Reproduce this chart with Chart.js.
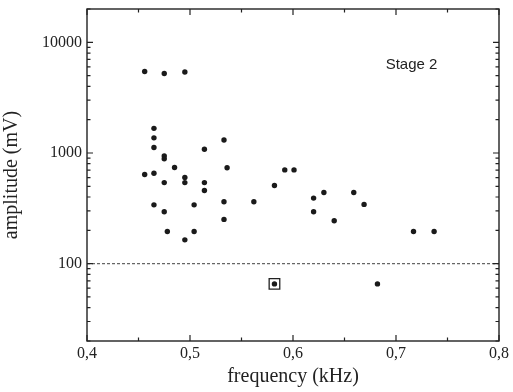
<!DOCTYPE html>
<html>
<head>
<meta charset="utf-8">
<script src="https://cdn.jsdelivr.net/npm/chart.js@4/dist/chart.umd.min.js"></script>
<style>
  html, body { margin: 0; padding: 0; background: #fff; }
  #wrap { width: 513px; height: 392px; }
</style>
</head>
<body>
<div id="wrap"><canvas id="chart" width="513" height="392"></canvas></div>
<script>
// measured peaks, stage 2
const freqKHz = [0.456, 0.475, 0.495, 0.465, 0.465, 0.465, 0.475, 0.475, 0.514, 0.533,
                 0.456, 0.465, 0.485, 0.495, 0.495, 0.475, 0.514, 0.514, 0.536, 0.592,
                 0.601, 0.582, 0.465, 0.475, 0.504, 0.533, 0.562, 0.533, 0.478, 0.504,
                 0.495, 0.620, 0.630, 0.620, 0.640, 0.659, 0.669, 0.717, 0.737, 0.582,
                 0.682];
const amplitudeMV = [5450, 5220, 5400, 1670, 1370, 1120, 940, 885, 1080, 1310,
                     640, 655, 740, 600, 540, 540, 540, 458, 735, 703,
                     703, 508, 340, 294, 340, 362, 362, 251, 195, 195,
                     164, 391, 439, 294, 244, 439, 343, 195, 195, 65.6,
                     65.6];
// the point that is boxed in the figure
const markedFreq = [0.582];
const markedAmp = [65.6];

const thresholdMV = 100;
const xTicks = [0.4, 0.5, 0.6, 0.7, 0.8];
const xMinorTicks = [0.45, 0.55, 0.65, 0.75];
const yTicks = [100, 1000, 10000];
const yMinorTicks = [];
[10, 100, 1000, 10000].forEach(d => {
    for (let k = 2; k <= 9; k++) {
        if (d * k >= 20 && d * k <= 20000) yMinorTicks.push(d * k);
    }
});

const serif = "'Liberation Serif', 'Times New Roman', serif";
const ink = '#222';

const framePlugin = {
    id: 'frame',
    beforeDatasetsDraw(chart) {
        const { ctx, chartArea: a, scales: { y } } = chart;
        ctx.save();
        // threshold line
        const yt = y.getPixelForValue(thresholdMV);
        ctx.strokeStyle = '#666';
        ctx.lineWidth = 1.3;
        ctx.setLineDash([3, 2]);
        ctx.beginPath();
        ctx.moveTo(a.left, yt);
        ctx.lineTo(a.right, yt);
        ctx.stroke();
        ctx.restore();
    },
    afterDraw(chart) {
        const { ctx, chartArea: a, scales: { x, y } } = chart;
        ctx.save();
        ctx.strokeStyle = ink;
        ctx.lineWidth = 1.4;
        ctx.strokeRect(a.left, a.top, a.right - a.left, a.bottom - a.top);

        ctx.lineWidth = 1.2;
        ctx.beginPath();
        const xTick = (v, len) => {
            const px = x.getPixelForValue(v);
            ctx.moveTo(px, a.bottom); ctx.lineTo(px, a.bottom - len);
            ctx.moveTo(px, a.top); ctx.lineTo(px, a.top + len);
        };
        const yTick = (v, len) => {
            const py = y.getPixelForValue(v);
            ctx.moveTo(a.left, py); ctx.lineTo(a.left + len, py);
            ctx.moveTo(a.right, py); ctx.lineTo(a.right - len, py);
        };
        xTicks.forEach(v => xTick(v, 6));
        xMinorTicks.forEach(v => xTick(v, 3.5));
        yTicks.forEach(v => yTick(v, 6));
        yMinorTicks.forEach(v => yTick(v, 3.5));
        ctx.stroke();

        // stage label
        ctx.fillStyle = ink;
        ctx.font = "15px 'Liberation Sans', Arial, sans-serif";
        ctx.textAlign = 'left';
        ctx.textBaseline = 'middle';
        ctx.fillText('Stage 2', x.getPixelForValue(0.69), y.getPixelForValue(6200));
        ctx.restore();
    }
};

new Chart(document.getElementById('chart'), {
    type: 'scatter',
    data: {
        datasets: [
            {
                data: freqKHz.map((f, i) => ({ x: f, y: amplitudeMV[i] })),
                pointRadius: 2.7,
                pointHoverRadius: 2.7,
                pointBackgroundColor: '#1a1a1a',
                pointBorderWidth: 0
            },
            {
                data: markedFreq.map((f, i) => ({ x: f, y: markedAmp[i] })),
                pointStyle: 'rect',
                pointRadius: 7.5,
                pointHoverRadius: 7.5,
                pointBackgroundColor: 'rgba(0,0,0,0)',
                pointBorderColor: ink,
                pointBorderWidth: 1.3
            }
        ]
    },
    options: {
        responsive: false,
        animation: false,
        events: [],
        layout: { padding: { left: 0, right: 14, top: 9, bottom: 0 } },
        plugins: { legend: { display: false }, tooltip: { enabled: false } },
        scales: {
            x: {
                type: 'linear',
                min: 0.4,
                max: 0.8,
                afterFit: s => { s.height = 51; s.paddingLeft = 0; s.paddingRight = 0; },
                grid: { display: false, drawTicks: false },
                border: { display: false },
                ticks: {
                    stepSize: 0.1,
                    padding: 3,
                    color: ink,
                    font: { family: serif, size: 16 },
                    callback: v => Number(v).toFixed(1).replace('.', ',')
                },
                title: {
                    display: true,
                    text: 'frequency (kHz)',
                    color: ink,
                    font: { family: serif, size: 20 },
                    padding: { top: 0, bottom: 3 }
                }
            },
            y: {
                type: 'logarithmic',
                min: 20,
                max: 20000,
                afterFit: s => { s.width = 87; s.paddingTop = 0; s.paddingBottom = 0; },
                grid: { display: false, drawTicks: false },
                border: { display: false },
                ticks: {
                    autoSkip: false,
                    padding: 5,
                    color: ink,
                    font: { family: serif, size: 16 },
                    callback: v => yTicks.includes(Math.round(v)) ? String(Math.round(v)) : ''
                },
                title: {
                    display: true,
                    text: 'amplitude (mV)',
                    color: ink,
                    font: { family: serif, size: 20 },
                    padding: { top: 0, bottom: 13 }
                }
            }
        }
    },
    plugins: [framePlugin]
});
</script>
</body>
</html>
